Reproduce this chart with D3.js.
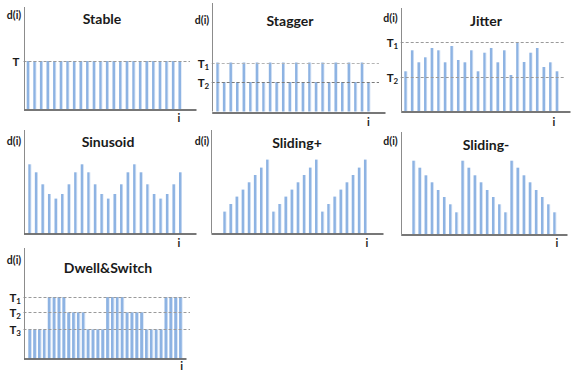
<!DOCTYPE html>
<html>
<head>
<meta charset="utf-8">
<script src="https://cdn.jsdelivr.net/npm/d3@7"></script>
<style>
  html, body { margin: 0; padding: 0; background: #ffffff; }
  svg { display: block; }
  text { font-family: Lato, "Noto Sans", "DejaVu Sans", sans-serif; fill: #1a1a1a; }
</style>
</head>
<body>
<svg id="chart" width="571" height="373"></svg>
<script>
// Delay value d(i) for each packet index i, one array per pattern.
const stableT = 48;
const stableValues = [48,48,48,48,48,48,48,48,48,48,48,48,48,48,48,48,48,48,48,48,48,48,48,48];

const staggerT1 = 49;
const staggerT2 = 29.5;
const staggerValues = [49,29.5,49,29.5,49,29.5,49,29.5,49,29.5,49,29.5,49,29.5,49,29.5,49,29.5,49,29.5,49,29.5,49,29.5];

const jitterT1 = 68.7;
const jitterT2 = 33.7;
const jitterValues = [39.7,60.7,48.7,53.7,63,60.7,48.7,65,51,48.7,60.7,39.7,58.3,63,48.7,60.7,36,68.7,49,58.3,63,44,48.7,39.7];

const sinusoidValues = [69,61,49,39.3,34.7,39.3,49,61,69,61,49,39.3,34.7,39.3,49,61,69,61,49,39.3,34.7,39.3,49,61];

const slidingUpValues = [21.7,29.3,36.7,43.7,51,58.3,65.7,73.7,21.7,29.3,36.7,43.7,51,58.3,65.7,73.7,21.7,29.3,36.7,43.7,51,58.3,65.7,73.7];

const slidingDownValues = [73.3,66.3,58.7,51.7,44,37,29.7,21.7,73.3,66.3,58.7,51.7,44,37,29.7,21.7,73.3,66.3,58.7,51.7,44,37,29.7,21.7];

const dwellT1 = 61.3;
const dwellT2 = 46;
const dwellT3 = 29;
const dwellValues = [29,29,29,29,61.3,61.3,61.3,61.3,46,46,46,46,29,29,29,29,61.3,61.3,61.3,61.3,46,46,46,46,29,29,29,29,61.3,61.3,61.3,61.3];

const titles = ["Stable", "Stagger", "Jitter", "Sinusoid", "Sliding+", "Sliding-", "Dwell&Switch"];

// Panel geometry (pixels): axis origin, bar span, guide and label placement.
const panels = [
  { title: titles[0], values: stableValues, thresholds: [{v: stableT, name: "T", sub: ""}],
    ax: 23.5, base: 109, top: 7, right: 196, b0: 26.7, b1: 181.5, pad: 0.54, dashEnd: 190,
    tx: 102, ty: 19, dx: 14, dy: 15, ix: 179, iy: 118 },
  { title: titles[1], values: staggerValues,
    thresholds: [{v: staggerT1, name: "T", sub: "1", c: "#b5b5b5"}, {v: staggerT2, name: "T", sub: "2", c: "#7a7a7a"}],
    ax: 211.7, base: 111.5, top: 3, right: 385, b0: 216.3, b1: 370.3, pad: 0.54, dashEnd: 379,
    tx: 290, ty: 21, dx: 202, dy: 20, ix: 368.5, iy: 122 },
  { title: titles[2], values: jitterValues,
    thresholds: [{v: jitterT1, name: "T", sub: "1"}, {v: jitterT2, name: "T", sub: "2"}],
    ax: 400.7, base: 111, top: 8, right: 570, b0: 404.3, b1: 558.7, pad: 0.54, dashEnd: 565,
    tx: 486, ty: 21, dx: 390.5, dy: 18, ix: 554, iy: 122 },
  { title: titles[3], values: sinusoidValues, thresholds: [],
    ax: 23.5, base: 233.3, top: 130, right: 196, b0: 28.3, b1: 182, pad: 0.54, dashEnd: 0,
    tx: 108, ty: 141.7, dx: 14, dy: 141, ix: 179, iy: 243 },
  { title: titles[4], values: slidingUpValues, thresholds: [],
    ax: 211, base: 233.3, top: 130, right: 383, b0: 223.3, b1: 367, pad: 0.5, dashEnd: 0,
    tx: 297, ty: 143, dx: 202, dy: 141.7, ix: 367, iy: 243 },
  { title: titles[5], values: slidingDownValues, thresholds: [],
    ax: 400.7, base: 234, top: 132, right: 567, b0: 412.3, b1: 556.3, pad: 0.5, dashEnd: 0,
    tx: 486, ty: 145, dx: 390.5, dy: 141.7, ix: 557, iy: 243 },
  { title: titles[6], values: dwellValues,
    thresholds: [{v: dwellT1, name: "T", sub: "1"}, {v: dwellT2, name: "T", sub: "2"}, {v: dwellT3, name: "T", sub: "3"}],
    ax: 23.5, base: 358.3, top: 248, right: 186, b0: 28.3, b1: 182.5, pad: 0.3, dashEnd: 190,
    tx: 108, ty: 267.7, dx: 14, dy: 260, ix: 181.7, iy: 366 }
];

const svg = d3.select("#chart");

// Bar fill: Excel-style light blue with a paler right edge.
const defs = svg.append("defs");
const grad = defs.append("linearGradient").attr("id", "barFill")
  .attr("x1", "0").attr("x2", "1").attr("y1", "0").attr("y2", "0");
grad.append("stop").attr("offset", "0").attr("stop-color", "#8cb2e2");
grad.append("stop").attr("offset", "0.68").attr("stop-color", "#8fb4e3");
grad.append("stop").attr("offset", "0.75").attr("stop-color", "#bcd2ef");
grad.append("stop").attr("offset", "1").attr("stop-color", "#c9dbf2");

panels.forEach(p => {
  const g = svg.append("g");

  const x = d3.scaleBand()
    .domain(d3.range(p.values.length))
    .range([p.b0, p.b1])
    .paddingInner(p.pad)
    .paddingOuter(0);

  const y = d3.scaleLinear().domain([0, 100]).range([p.base, p.base - 100]);

  // bars
  g.selectAll("rect.bar")
    .data(p.values)
    .join("rect")
    .attr("class", "bar")
    .attr("x", (d, i) => x(i))
    .attr("width", x.bandwidth())
    .attr("y", d => y(d))
    .attr("height", d => y(0) - y(d))
    .attr("fill", "url(#barFill)");

  // threshold guides
  p.thresholds.forEach(t => {
    const yy = Math.round(y(t.v)) + 0.5;
    g.append("line")
      .attr("x1", p.ax).attr("x2", p.dashEnd)
      .attr("y1", yy).attr("y2", yy)
      .attr("stroke", t.c || "#9a9a9a")
      .attr("stroke-width", 1)
      .attr("stroke-dasharray", "3,2");
    const lbl = g.append("text")
      .attr("x", p.ax - (t.sub ? 2.5 : 4))
      .attr("y", yy)
      .attr("dy", "0.36em")
      .attr("text-anchor", "end")
      .attr("font-size", 11.5)
      .attr("font-weight", "bold");
    lbl.append("tspan").text(t.name);
    if (t.sub) {
      lbl.append("tspan").attr("font-size", 8).attr("dy", "0.25em").text(t.sub);
    }
  });

  // axes
  const yAxis = d3.axisLeft(y).tickValues([]).tickSizeOuter(0);
  g.append("g")
    .attr("transform", `translate(${Math.round(p.ax) + 0.5},0)`)
    .call(yAxis)
    .call(s => s.select(".domain")
      .attr("d", `M0,${p.top}V${p.base}`)
      .attr("stroke", "#8c8c8c"));

  const xAxis = d3.axisBottom(d3.scaleLinear().range([p.ax, p.right])).tickValues([]).tickSizeOuter(0);
  g.append("g")
    .attr("transform", `translate(0,${Math.round(p.base) + 0.5})`)
    .call(xAxis)
    .call(s => s.select(".domain").attr("stroke", "#4a4a4a").attr("stroke-width", 1.3));

  // labels
  g.append("text")
    .attr("x", p.tx).attr("y", p.ty)
    .attr("dy", "0.35em")
    .attr("text-anchor", "middle")
    .attr("font-size", 14)
    .attr("font-weight", "bold")
    .text(p.title);

  g.append("text")
    .attr("x", p.dx).attr("y", p.dy)
    .attr("dy", "0.35em")
    .attr("text-anchor", "middle")
    .attr("font-size", 10.5)
    .attr("font-weight", "bold")
    .text("d(i)");

  g.append("text")
    .attr("x", p.ix).attr("y", p.iy)
    .attr("dy", "0.35em")
    .attr("text-anchor", "middle")
    .attr("font-size", 11)
    .attr("font-weight", "bold")
    .text("i");
});
</script>
</body>
</html>
